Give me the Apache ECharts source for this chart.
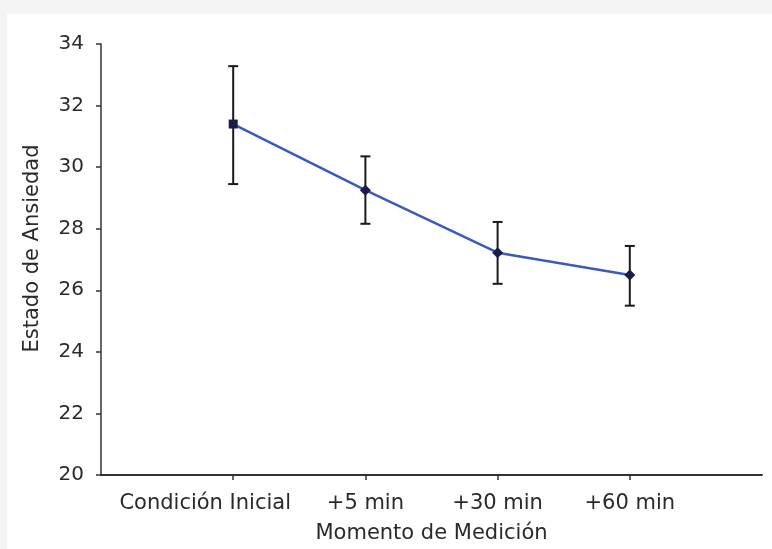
<!DOCTYPE html>
<html>
<head>
<meta charset="utf-8">
<script src="https://cdn.jsdelivr.net/npm/echarts@6/dist/echarts.min.js"></script>
<style>
html,body{margin:0;padding:0;background:#f4f4f4;}
#chart{width:772px;height:549px;}
</style>
</head>
<body>
<div id="chart"></div>
<script>
var categories = ['Condición Inicial', '+5 min', '+30 min', '+60 min'];
var positions = [1, 2, 3, 4];
var means = [31.4, 29.25, 27.22, 26.5];
var upper = [33.28, 30.35, 28.22, 27.44];
var lower = [29.45, 28.16, 26.21, 25.5];
var symbols = ['rect', 'diamond', 'diamond', 'diamond'];
var yTicks = [20, 22, 24, 26, 28, 30, 32, 34];

var FONT = 'DejaVu Sans';
var TXT = '#2a2a2a';
var chart = echarts.init(document.getElementById('chart'), null, {renderer: 'canvas'});

var lineData = positions.map(function (p, i) {
  return {value: [p, means[i]], symbol: symbols[i], symbolSize: symbols[i] === 'rect' ? 9 : 11};
});
var errData = positions.map(function (p, i) { return [p, lower[i], upper[i]]; });

chart.setOption({
  backgroundColor: '#f4f4f4',
  animation: false,
  graphic: [{
    type: 'rect', left: 7, top: 14, z: -10,
    shape: {width: 765, height: 535},
    style: {fill: '#ffffff'}
  }],
  grid: {left: 101, right: 10, top: 44, bottom: 72},
  xAxis: {
    type: 'value', min: 0, max: 5, interval: 1,
    name: 'Momento de Medición', nameLocation: 'middle', nameGap: 48,
    nameTextStyle: {fontFamily: FONT, fontSize: 21, color: TXT},
    axisLine: {show: true, lineStyle: {color: '#333', width: 2}},
    axisTick: {show: true, length: 5, customValues: positions, lineStyle: {color: '#333', width: 1.5}},
    splitLine: {show: false},
    axisLabel: {
      customValues: positions, margin: 18,
      fontFamily: FONT, fontSize: 21, color: TXT,
      formatter: function (v) {
        var i = positions.indexOf(v);
        if (i < 0) return '';
        return i === 0 ? '{a|' + categories[i] + '}' : categories[i];
      },
      rich: {a: {fontFamily: FONT, fontSize: 21, color: TXT, padding: [0, 56, 0, 0]}}
    }
  },
  yAxis: {
    type: 'value', min: 20, max: 34, interval: 2,
    name: 'Estado de Ansiedad', nameLocation: 'middle', nameGap: 58,
    nameTextStyle: {fontFamily: FONT, fontSize: 21, color: TXT, padding: [0, 0, 0, 22]},
    axisLine: {show: true, lineStyle: {color: '#333', width: 1.5}},
    axisTick: {show: true, length: 5, lineStyle: {color: '#333', width: 1.5}},
    splitLine: {show: false},
    axisLabel: {margin: 17, fontFamily: FONT, fontSize: 20, color: TXT,
      formatter: function (v) { return yTicks.indexOf(v) >= 0 ? String(v) : ''; }}
  },
  series: [{
    type: 'custom',
    data: errData,
    z: 3,
    renderItem: function (params, api) {
      var x = api.value(0);
      var lo = api.coord([x, api.value(1)]);
      var hi = api.coord([x, api.value(2)]);
      var w = 5;
      var st = {stroke: '#1a1a1a', lineWidth: 2};
      return {type: 'group', children: [
        {type: 'line', shape: {x1: lo[0], y1: lo[1], x2: hi[0], y2: hi[1]}, style: st},
        {type: 'line', shape: {x1: lo[0] - w, y1: lo[1], x2: lo[0] + w, y2: lo[1]}, style: st},
        {type: 'line', shape: {x1: hi[0] - w, y1: hi[1], x2: hi[0] + w, y2: hi[1]}, style: st}
      ]};
    }
  }, {
    type: 'line',
    data: lineData,
    z: 5,
    lineStyle: {color: '#3c5ab8', width: 2.5},
    itemStyle: {color: '#1c1c4a', borderWidth: 0}
  }]
});
</script>
</body>
</html>
